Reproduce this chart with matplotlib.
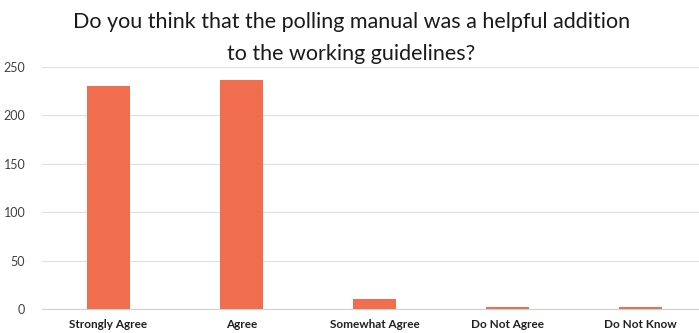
import matplotlib.pyplot as plt
import numpy as np

categories = ["Strongly Agree", "Agree", "Somewhat Agree", "Do Not Agree", "Do Not Know"]
responses = [230, 237, 10, 2, 2]
y_ticks = [0, 50, 100, 150, 200, 250]

plt.rcParams["font.family"] = ["Lato", "DejaVu Sans"]

fig = plt.figure(figsize=(6.99, 3.33), dpi=100)
ax = fig.add_axes([0.06, 0.072, 0.94, 0.727])

x = np.arange(len(categories))
ax.bar(x, responses, width=0.32, color="#F06E4E", zorder=3)

ax.set_xlim(-0.5, 4.44)
ax.set_ylim(0, 250)
ax.set_yticks(y_ticks)
ax.set_yticklabels([str(v) for v in y_ticks], fontsize=9, color="#404040")
ax.set_xticks(x)
ax.set_xticklabels(categories, fontsize=8.5, fontweight="bold", color="#202020")
ax.tick_params(axis="both", length=0)
ax.tick_params(axis="y", pad=12)
ax.tick_params(axis="x", pad=7)

ax.grid(axis="y", color="#E0E0E0", linewidth=0.9, zorder=0)
for side in ["top", "right", "left"]:
    ax.spines[side].set_visible(False)
ax.spines["bottom"].set_color("#D0D0D0")

fig.text(0.503, 0.965, "Do you think that the polling manual was a helpful addition\nto the working guidelines?",
         ha="center", va="top", fontsize=15.5, color="#1a1a1a", linespacing=1.75)

fig.savefig("out.png", dpi=100)
